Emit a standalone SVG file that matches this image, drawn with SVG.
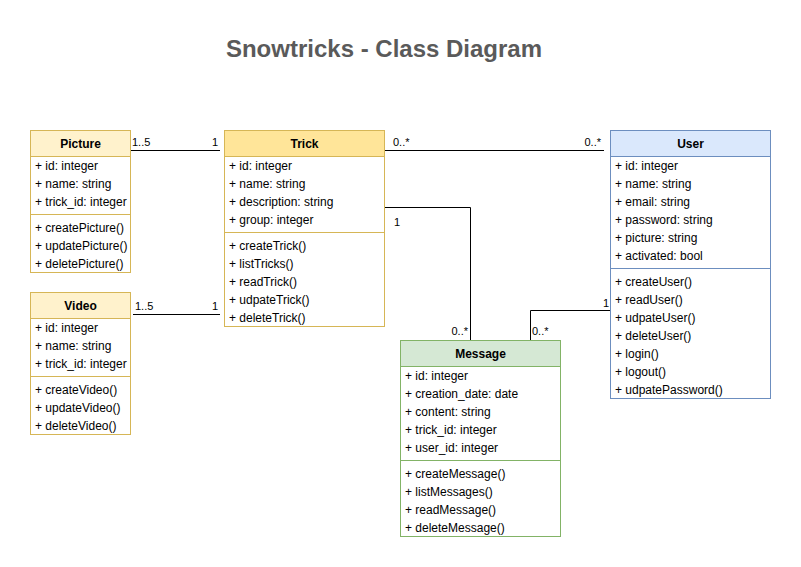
<svg xmlns="http://www.w3.org/2000/svg" width="801" height="567" viewBox="0 0 801 567">
<style>
text{font-family:"Liberation Sans",Arial,Helvetica,sans-serif;font-size:12px;fill:#000}
.t{font-size:24px;font-weight:bold;fill:#5a5a5a}
.h{font-weight:bold;text-anchor:middle}
.lbl{font-size:11px}
.e{text-anchor:end}
.y rect,.y line{stroke:#d6b656}
.b rect,.b line{stroke:#6c8ebf}
.g rect,.g line{stroke:#82b366}
rect{stroke-width:1}
.body{fill:#fff}
.conn path{fill:none;stroke:#000;stroke-width:1}
</style>
<rect width="801" height="567" fill="#fff"/>
<text class="t" x="384" y="57" text-anchor="middle">Snowtricks - Class Diagram</text>

<g id="conn" class="conn">
<path d="M130.5 150.5H220"/>
<path d="M133 314.5H220"/>
<path d="M384 150.5H604"/>
<path d="M384 207.5H470.5V340"/>
<path d="M610 310.5H530.5V340"/>
</g>
<g id="conn-labels" class="lbl">
<text class="lbl" x="132" y="146">1..5</text>
<text class="lbl e" x="218" y="146">1</text>
<text class="lbl" x="135" y="310">1..5</text>
<text class="lbl e" x="218" y="310">1</text>
<text class="lbl" x="393" y="146">0..*</text>
<text class="lbl e" x="601" y="146">0..*</text>
<text class="lbl" x="394" y="226">1</text>
<text class="lbl e" x="468" y="335">0..*</text>
<text class="lbl" x="532" y="335">0..*</text>
<text class="lbl e" x="609" y="307">1</text>
</g>

<g id="picture" class="y">
<rect x="30.5" y="130.5" width="100" height="142" class="body"/>
<rect x="30.5" y="130.5" width="100" height="26" fill="#fff2cc"/>
<line x1="30.5" y1="214.5" x2="130.5" y2="214.5"/>
<text class="h" x="80.5" y="148">Picture</text>
<text x="35" y="170">+ id: integer</text>
<text x="35" y="188">+ name: string</text>
<text x="35" y="206">+ trick_id: integer</text>
<text x="35" y="232">+ createPicture()</text>
<text x="35" y="250">+ updatePicture()</text>
<text x="35" y="268">+ deletePicture()</text>
</g>

<g id="video" class="y">
<rect x="30.5" y="292.5" width="100" height="142" class="body"/>
<rect x="30.5" y="292.5" width="100" height="26" fill="#fff2cc"/>
<line x1="30.5" y1="376.5" x2="130.5" y2="376.5"/>
<text class="h" x="80.5" y="310">Video</text>
<text x="35" y="332">+ id: integer</text>
<text x="35" y="350">+ name: string</text>
<text x="35" y="368">+ trick_id: integer</text>
<text x="35" y="394">+ createVideo()</text>
<text x="35" y="412">+ updateVideo()</text>
<text x="35" y="430">+ deleteVideo()</text>
</g>

<g id="trick" class="y">
<rect x="224.5" y="130.5" width="160" height="196" class="body"/>
<rect x="224.5" y="130.5" width="160" height="26" fill="#ffe599"/>
<line x1="224.5" y1="232.5" x2="384.5" y2="232.5"/>
<text class="h" x="304.5" y="148">Trick</text>
<text x="229" y="170">+ id: integer</text>
<text x="229" y="188">+ name: string</text>
<text x="229" y="206">+ description: string</text>
<text x="229" y="224">+ group: integer</text>
<text x="229" y="250">+ createTrick()</text>
<text x="229" y="268">+ listTricks()</text>
<text x="229" y="286">+ readTrick()</text>
<text x="229" y="304">+ udpateTrick()</text>
<text x="229" y="322">+ deleteTrick()</text>
</g>

<g id="user" class="b">
<rect x="610.5" y="130.5" width="160" height="268" class="body"/>
<rect x="610.5" y="130.5" width="160" height="26" fill="#dae8fc"/>
<line x1="610.5" y1="268.5" x2="770.5" y2="268.5"/>
<text class="h" x="690.5" y="148">User</text>
<text x="615" y="170">+ id: integer</text>
<text x="615" y="188">+ name: string</text>
<text x="615" y="206">+ email: string</text>
<text x="615" y="224">+ password: string</text>
<text x="615" y="242">+ picture: string</text>
<text x="615" y="260">+ activated: bool</text>
<text x="615" y="286">+ createUser()</text>
<text x="615" y="304">+ readUser()</text>
<text x="615" y="322">+ udpateUser()</text>
<text x="615" y="340">+ deleteUser()</text>
<text x="615" y="358">+ login()</text>
<text x="615" y="376">+ logout()</text>
<text x="615" y="394">+ udpatePassword()</text>
</g>

<g id="message" class="g">
<rect x="400.5" y="340.5" width="160" height="196" class="body"/>
<rect x="400.5" y="340.5" width="160" height="26" fill="#d5e8d4"/>
<line x1="400.5" y1="460.5" x2="560.5" y2="460.5"/>
<text class="h" x="480.5" y="358">Message</text>
<text x="405" y="380">+ id: integer</text>
<text x="405" y="398">+ creation_date: date</text>
<text x="405" y="416">+ content: string</text>
<text x="405" y="434">+ trick_id: integer</text>
<text x="405" y="452">+ user_id: integer</text>
<text x="405" y="478">+ createMessage()</text>
<text x="405" y="496">+ listMessages()</text>
<text x="405" y="514">+ readMessage()</text>
<text x="405" y="532">+ deleteMessage()</text>
</g>
</svg>
